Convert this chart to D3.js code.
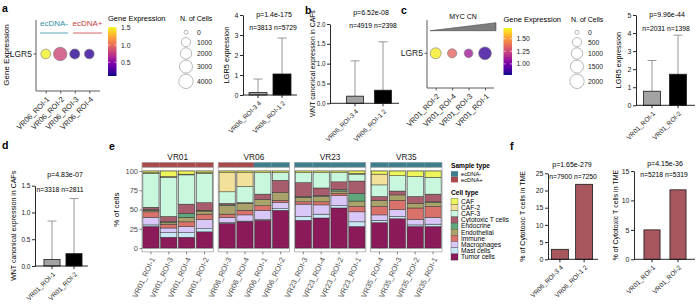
<!DOCTYPE html>
<html>
<head>
<meta charset="utf-8">
<script src="https://cdn.jsdelivr.net/npm/d3@7"></script>
<style>
  body { margin: 0; background: #fff; }
  svg { display: block; font-family: "Liberation Sans", Arial, sans-serif; }
</style>
</head>
<body>
<svg id="fig" width="699" height="304"></svg>
<script>
// ---------- panel a : dot plot ----------
var aSamples = ["VR06_ROI-1", "VR06_ROI-2", "VR06_ROI-3", "VR06_ROI-4"];
var aExpr = [1.5, 0.82, 0.17, 0.19];
var aCells = [1200, 3300, 1400, 1200];
var aColorTicks = [0.5, 1.0, 1.5];
var aSizeTicks = [0, 1000, 2000, 3000, 4000];

// ---------- panel a : LGR5 bars ----------
var aBarGroups = ["VR06_ROI-3 4", "VR06_ROI-1 2"];
var aBarMean = [0.12, 1.05];
var aBarErr = [0.8, 2.85];
var aBarN = [3813, 5729];
var aBarTicks = [0, 1, 2, 3, 4];

// ---------- panel b ----------
var bGroups = ["VR06_ROI-3 4", "VR06_ROI-1 2"];
var bMean = [0.18, 0.33];
var bErr = [1.07, 1.55];
var bN = [4919, 2398];
var bTicks = [0, 0.5, 1.0, 1.5, 2.0];

// ---------- panel c ----------
var cSamples = ["VR01_ROI-2", "VR01_ROI-4", "VR01_ROI-3", "VR01_ROI-1"];
var cExpr = [1.68, 1.34, 1.11, 0.85];
var cCells = [900, 500, 400, 1400];
var cColorTicks = [1.0, 1.25, 1.5];
var cSizeTicks = [0, 500, 1000, 1500, 2000];
var cBarGroups = ["VR01_ROI-1", "VR01_ROI-2"];
var cBarMean = [0.78, 1.72];
var cBarErr = [2.48, 3.88];
var cBarN = [2031, 1398];
var cBarTicks = [0, 1, 2, 3, 4, 5];

// ---------- panel d ----------
var dGroups = ["VR01_ROI-1", "VR01_ROI-2"];
var dMean = [0.12, 0.23];
var dErr = [0.84, 1.26];
var dN = [3318, 2811];
var dTicks = [0, 0.5, 1.0, 1.5];

// ---------- panel e : cell composition ----------
var ePatients = ["VR01", "VR06", "VR23", "VR35"];
var eSamples = ["VR01_ROI-1", "VR01_ROI-3", "VR01_ROI-4", "VR01_ROI-2",
                "VR06_ROI-3", "VR06_ROI-4", "VR06_ROI-1", "VR06_ROI-2",
                "VR23_ROI-3", "VR23_ROI-4", "VR23_ROI-2", "VR23_ROI-1",
                "VR35_ROI-4", "VR35_ROI-3", "VR35_ROI-2", "VR35_ROI-1"];
var eSampleType = ["ecDNA+", "ecDNA+", "ecDNA+", "ecDNA+",
                   "ecDNA+", "ecDNA+", "ecDNA-", "ecDNA-",
                   "ecDNA-", "ecDNA-", "ecDNA-", "ecDNA-",
                   "ecDNA-", "ecDNA-", "ecDNA-", "ecDNA-"];
var eCellTypes = ["CAF", "CAF-2", "CAF-3", "Cytotoxic T cells", "Endocrine",
                  "Endothelial", "Immune", "Macrophages", "Mast cells", "Tumor cells"];
// % of cells, one value per sample in eSamples order
var eCAF        = [2, 7, 4, 2,   2, 2, 2, 2,   2, 2, 2, 3,   4, 6, 7, 8];
var eCAF2       = [1, 1, 1, 1,   25, 18, 0, 0, 0, 0, 0, 1,   14, 0, 0, 0];
var eCAF3       = [44, 51, 38, 38, 15, 21, 28, 10, 13, 20, 12, 9, 15, 20, 26, 22];
var eCytotoxic  = [3, 7, 12, 10, 2, 1, 7, 16,  18, 10, 10, 16, 5, 5, 9, 10];
var eEndocrine  = [1, 1, 5, 1,   1, 0, 0, 0,   1, 1, 2, 10,  0, 0, 0, 1];
var eEndothelial= [2, 2, 6, 4,   11, 9, 8, 10, 6, 7, 3, 7,   8, 7, 6, 5];
var eImmune     = [7, 5, 6, 7,   4, 6, 6, 3,   3, 4, 3, 7,   11, 12, 15, 14];
var eMacrophages= [10, 6, 8, 12, 7, 8, 12, 8,  16, 12, 13, 13, 7, 9, 7, 9];
var eMast       = [2, 6, 6, 4,   1, 1, 1, 2,   5, 5, 3, 6,   3, 3, 2, 3];
var eTumor      = [28, 14, 14, 21, 32, 34, 36, 49, 36, 39, 52, 28, 33, 38, 28, 28];
var eCellColors = ["#eef55a", "#f2e19b", "#c9f7dd", "#a85d6c", "#5fa87c",
                   "#a9a26b", "#d9726a", "#d9c8f7", "#c9e6f5", "#8b1a5a"];

// ---------- panel f ----------
var f1Groups = ["VR06_ROI-3 4", "VR06_ROI-1 2"];
var f1Values = [2.9, 21.8];
var f1N = [7900, 7250];
var f1Ticks = [0, 5, 10, 15, 20, 25];
var f2Groups = ["VR01_ROI-1", "VR01_ROI-2"];
var f2Values = [5.0, 11.8];
var f2N = [5218, 5319];
var f2Ticks = [0, 5, 10, 15];

var FONT = "'Liberation Sans', Arial, sans-serif";
var svg = d3.select("#fig");

function letter(t, x, y) {
  svg.append("text").attr("x", x).attr("y", y)
    .attr("font-size", 10.5).attr("font-weight", "bold").text(t);
}

// GraphPad style bar chart
function barPanel(c) {
  var g = svg.append("g");
  var x = d3.scaleBand().domain(c.groups).range(c.band)
    .paddingInner(c.pad).paddingOuter(c.pad / 2);
  var y = d3.scaleLinear().domain([0, d3.max(c.ticks)]).range(c.yRange);
  var cx = function (d) { return x(d) + x.bandwidth() / 2; };

  if (c.err) {
    g.selectAll("path.whisker").data(c.groups).enter().append("path")
      .attr("class", "whisker")
      .attr("d", function (d, i) {
        return "M" + cx(d) + "," + y(c.mean[i]) + "V" + y(c.err[i]) +
          "M" + (cx(d) - 4.5) + "," + y(c.err[i]) + "H" + (cx(d) + 4.5);
      })
      .attr("fill", "none").attr("stroke", "#8c8c8c").attr("stroke-width", 0.9);
  }

  g.selectAll("rect").data(c.groups).enter().append("rect")
    .attr("x", function (d) { return x(d); })
    .attr("width", x.bandwidth())
    .attr("y", function (d, i) { return y(c.mean[i]); })
    .attr("height", function (d, i) { return y(0) - y(c.mean[i]); })
    .attr("fill", function (d, i) { return c.fills[i]; })
    .attr("stroke", "#1a1a1a").attr("stroke-width", 0.8);

  var ya = g.append("g").attr("transform", "translate(" + c.axisX + ",0)")
    .call(d3.axisLeft(y).tickValues(c.ticks).tickSize(3).tickSizeOuter(0).tickFormat(c.fmt));
  ya.attr("font-size", c.tickSize || 7).attr("font-family", FONT);
  ya.selectAll("text").attr("x", -4.5);

  var xa = g.append("g").attr("transform", "translate(0," + y(0) + ")")
    .call(d3.axisBottom(x).tickSize(3).tickSizeOuter(0));
  xa.select(".domain").remove();
  xa.append("line").attr("x1", c.axisX).attr("x2", c.xEnd);
  xa.attr("font-size", 6.5).attr("font-family", FONT);
  xa.selectAll(".tick text")
    .attr("x", 0).attr("y", 0).attr("dy", "0.35em")
    .attr("text-anchor", "end")
    .attr("transform", "translate(2,7) rotate(-45)");

  g.selectAll("line, path.domain").attr("stroke", "#111").attr("stroke-width", 0.9);
  g.selectAll(".tick text").attr("fill", "#222");

  g.append("text")
    .attr("transform", "translate(" + c.labX + "," + d3.mean(c.yRange) + ") rotate(-90)")
    .attr("text-anchor", "middle").attr("font-size", c.labSize || 7.3).text(c.label);
  g.append("text").attr("x", c.pX).attr("y", c.pY).attr("text-anchor", "middle")
    .attr("font-size", 7).text(c.p);
  g.append("text").attr("x", c.nX).attr("y", c.nY).attr("text-anchor", "middle")
    .attr("font-size", 6.8).text("n=" + c.n[0] + " n=" + c.n[1]);
}

// ggplot style dot plot with colour bar and size legend
function dotPanel(c) {
  var g = svg.append("g");
  var x = d3.scalePoint().domain(c.samples).range(c.xr);
  var col = d3.scaleSequential(d3.interpolatePlasma).domain(c.cdom);
  var r = d3.scaleSqrt().domain([0, d3.max(c.sizeTicks)]).range([2, 7.2]);

  g.append("path")
    .attr("d", "M" + c.axisX + "," + c.yTop + "V" + c.yBot + "H" + c.xEnd)
    .attr("fill", "none").attr("stroke", "#333").attr("stroke-width", 0.8);
  g.append("line").attr("x1", c.axisX - 2.5).attr("x2", c.axisX)
    .attr("y1", c.dotY).attr("y2", c.dotY).attr("stroke", "#333").attr("stroke-width", 0.8);
  g.append("text").attr("x", c.axisX - 4).attr("y", c.dotY).attr("dy", "0.35em")
    .attr("text-anchor", "end").attr("font-size", 8.5).attr("fill", "#222").text("LGR5");

  var xa = g.append("g").attr("transform", "translate(0," + c.yBot + ")")
    .call(d3.axisBottom(x).tickSize(2.5).tickSizeOuter(0));
  xa.select(".domain").remove();
  xa.selectAll("line").attr("stroke", "#333").attr("stroke-width", 0.8);
  xa.attr("font-size", 7.5).attr("font-family", FONT);
  xa.selectAll(".tick text")
    .attr("x", 0).attr("y", 0).attr("dy", "0.35em").attr("fill", "#222")
    .attr("text-anchor", "end")
    .attr("transform", "translate(2,7) rotate(-45)");

  g.selectAll("circle.dot").data(c.samples).enter().append("circle")
    .attr("class", "dot")
    .attr("cx", function (d) { return x(d); })
    .attr("cy", c.dotY)
    .attr("r", function (d, i) { return r(c.cells[i]); })
    .attr("fill", function (d, i) { return col(c.expr[i]); })
    .attr("fill-opacity", 0.8)
    .attr("stroke", "#777").attr("stroke-width", 0.6);

  // colour bar
  var grad = svg.append("defs").append("linearGradient").attr("id", c.id)
    .attr("x1", 0).attr("y1", 1).attr("x2", 0).attr("y2", 0);
  d3.range(0, 1.0001, 0.1).forEach(function (t) {
    grad.append("stop").attr("offset", t).attr("stop-color", d3.interpolatePlasma(t));
  });
  var cb = d3.scaleLinear().domain(c.cdom).range([c.cbBot, c.cbTop]);
  g.append("text").attr("x", c.cbX).attr("y", c.cbTop - 6).attr("font-size", 7.5).text("Gene Expression");
  g.append("rect").attr("x", c.cbX).attr("y", c.cbTop).attr("width", 8.5)
    .attr("height", c.cbBot - c.cbTop).attr("fill", "url(#" + c.id + ")");
  c.colorTicks.forEach(function (v) {
    g.append("path").attr("d", "M" + c.cbX + "," + cb(v) + "h2M" + (c.cbX + 6.5) + "," + cb(v) + "h2")
      .attr("stroke", "#fff").attr("stroke-width", 0.6);
    g.append("text").attr("x", c.cbX + 13).attr("y", cb(v)).attr("dy", "0.35em")
      .attr("font-size", 6.8).attr("fill", "#222").text(d3.format(c.cfmt)(v));
  });

  // size legend
  g.append("text").attr("x", c.sX).attr("y", c.cbTop - 6).attr("font-size", 7).text("N. of Cells");
  var yy = c.sY0, prevH = 0;
  c.sizeTicks.forEach(function (v, i) {
    var h = Math.max(9.5, 2 * r(v) + 1);
    if (i > 0) yy += (prevH + h) / 2;
    prevH = h;
    g.append("circle").attr("cx", c.sX + 6).attr("cy", yy).attr("r", r(v))
      .attr("fill", "#fff").attr("stroke", "#888").attr("stroke-width", 0.6);
    g.append("text").attr("x", c.sX + 17).attr("y", yy).attr("dy", "0.35em")
      .attr("font-size", 6.8).attr("fill", "#222").text(v);
  });
  return g;
}

// ===== panel a =====
letter("a", 2, 12);
svg.append("text").attr("transform", "translate(9,55) rotate(-90)")
  .attr("text-anchor", "middle").attr("font-size", 8).text("Gene Expression");
var ga = dotPanel({
  id: "plasmaA", samples: aSamples, expr: aExpr, cells: aCells,
  xr: [45.7, 89.3], axisX: 36, yTop: 20, yBot: 91, xEnd: 100, dotY: 54,
  cdom: [0.1, 1.53], colorTicks: aColorTicks, cfmt: ".1f",
  cbX: 108, cbTop: 27, cbBot: 76, sizeTicks: aSizeTicks, sX: 180, sY0: 32.3
});
ga.append("text").attr("x", 54).attr("y", 26).attr("text-anchor", "middle")
  .attr("font-size", 8).attr("fill", "#2f8fa8").text("ecDNA-");
ga.append("line").attr("x1", 40).attr("x2", 68).attr("y1", 33).attr("y2", 33)
  .attr("stroke", "#2f8fa8").attr("stroke-width", 0.8);
ga.append("text").attr("x", 87.5).attr("y", 26).attr("text-anchor", "middle")
  .attr("font-size", 8).attr("fill", "#c8403f").text("ecDNA+");
ga.append("line").attr("x1", 73).attr("x2", 102).attr("y1", 33).attr("y2", 33)
  .attr("stroke", "#c8403f").attr("stroke-width", 0.8);

barPanel({
  groups: aBarGroups, mean: aBarMean, err: aBarErr, n: aBarN, fills: ["#a3a3a3", "#000"],
  ticks: aBarTicks, fmt: d3.format("d"), band: [246, 294], pad: 0.25,
  yRange: [95, 15], axisX: 243, xEnd: 297,
  label: "LGR5 expression", labX: 229, p: "p=1.4e-175", pX: 274, pY: 17, nX: 273, nY: 30
});

// ===== panel b =====
letter("b", 305, 14);
barPanel({
  groups: bGroups, mean: bMean, err: bErr, n: bN, fills: ["#a3a3a3", "#000"],
  ticks: bTicks, fmt: d3.format(".1f"), band: [341, 397], pad: 0.4, tickSize: 6.3,
  yRange: [103.3, 24], axisX: 330, xEnd: 399,
  label: "WNT canonical expression in CAFs", labX: 315, labSize: 6.8,
  p: "p=6.52e-08", pX: 371, pY: 15, nX: 373, nY: 28
});

// ===== panel c =====
letter("c", 401, 14);
var gc = dotPanel({
  id: "plasmaC", samples: cSamples, expr: cExpr, cells: cCells,
  xr: [435.7, 485], axisX: 427, yTop: 20, yBot: 88, xEnd: 494, dotY: 53.3,
  cdom: [0.78, 1.71], colorTicks: cColorTicks, cfmt: ".2f",
  cbX: 503.5, cbTop: 28, cbBot: 75, sizeTicks: cSizeTicks, sX: 571, sY0: 32.3
});
gc.append("path").attr("d", "M430,30.7L496,22.7V30.7Z")
  .attr("fill", "#7d7d7d").attr("stroke", "#333").attr("stroke-width", 0.5);
gc.append("text").attr("x", 463).attr("y", 19).attr("text-anchor", "middle")
  .attr("font-size", 7).text("MYC CN");

barPanel({
  groups: cBarGroups, mean: cBarMean, err: cBarErr, n: cBarN, fills: ["#a3a3a3", "#000"],
  ticks: cBarTicks, fmt: d3.format("d"), band: [639, 691], pad: 0.35,
  yRange: [105.3, 15], axisX: 636, xEnd: 695,
  label: "LGR5 expression", labX: 621, p: "p=9.96e-44", pX: 667, pY: 17, nX: 666, nY: 31
});

// ===== panel d =====
letter("d", 2, 149);
barPanel({
  groups: dGroups, mean: dMean, err: dErr, n: dN, fills: ["#a3a3a3", "#000"],
  ticks: dTicks, fmt: d3.format(".1f"), band: [41, 85], pad: 0.27, tickSize: 6.5,
  yRange: [266, 185.7], axisX: 35, xEnd: 88,
  label: "WNT canonical expression in CAFs", labX: 16, labSize: 7,
  p: "p=4.83e-07", pX: 65, pY: 176.5, nX: 60, nY: 191.5
});

// ===== panel e =====
letter("e", 109, 150);
var eRows = eSamples.map(function (s, i) {
  return {
    sample: s, patient: s.slice(0, 4), type: eSampleType[i],
    "CAF": eCAF[i], "CAF-2": eCAF2[i], "CAF-3": eCAF3[i],
    "Cytotoxic T cells": eCytotoxic[i], "Endocrine": eEndocrine[i],
    "Endothelial": eEndothelial[i], "Immune": eImmune[i],
    "Macrophages": eMacrophages[i], "Mast cells": eMast[i], "Tumor cells": eTumor[i]
  };
});
var eColor = d3.scaleOrdinal().domain(eCellTypes).range(eCellColors);
var typeColor = d3.scaleOrdinal().domain(["ecDNA-", "ecDNA+"]).range(["#3d7e8e", "#a84a4b"]);
var ex = d3.scaleBand().domain(ePatients).range([142, 442]).paddingInner(0.062);
var ey = d3.scaleLinear().domain([-5, 105]).range([251.85, 167.2]);
var stack = d3.stack().keys(eCellTypes.slice().reverse());

ePatients.forEach(function (p) {
  var rows = eRows.filter(function (d) { return d.patient === p; });
  var w = ex.bandwidth();
  var g = svg.append("g").attr("transform", "translate(" + ex(p) + ",0)");
  var xi = d3.scaleBand().domain(rows.map(function (d) { return d.sample; }))
    .range([0, w]).paddingInner(0.1).paddingOuter(0.05);
  var xs = d3.scaleBand().domain(xi.domain()).range([0, w]);

  g.append("rect").attr("x", 0).attr("y", ey(105)).attr("width", w)
    .attr("height", ey(-5) - ey(105)).attr("fill", "#fff");

  // grey frame behind each column
  g.selectAll("rect.col").data(rows).enter().append("rect").attr("class", "col")
    .attr("x", function (d) { return xi(d.sample); }).attr("width", xi.bandwidth())
    .attr("y", ey(100)).attr("height", ey(0) - ey(100))
    .attr("fill", "none").attr("stroke", "#c4c4c4").attr("stroke-width", 2);

  var layers = stack(rows);
  g.selectAll("g.layer").data(layers).enter().append("g").attr("class", "layer")
    .attr("fill", function (d) { return eColor(d.key); })
    .selectAll("rect").data(function (d) { return d; }).enter().append("rect")
    .attr("x", function (d) { return xi(d.data.sample); })
    .attr("width", xi.bandwidth())
    .attr("y", function (d) { return ey(d[1]); })
    .attr("height", function (d) { return ey(d[0]) - ey(d[1]); })
    .attr("stroke", "#2b2b2b").attr("stroke-width", 0.45);

  g.append("rect").attr("x", 0).attr("y", ey(105)).attr("width", w)
    .attr("height", ey(-5) - ey(105)).attr("fill", "none")
    .attr("stroke", "#a6a6a6").attr("stroke-width", 0.8);

  // sample type strip
  g.selectAll("rect.strip").data(rows).enter().append("rect").attr("class", "strip")
    .attr("x", function (d) { return xs(d.sample); }).attr("width", xs.bandwidth())
    .attr("y", 162.3).attr("height", ey(105) - 162.3)
    .attr("fill", function (d) { return typeColor(d.type); });
  g.append("rect").attr("x", 0).attr("y", 162.3).attr("width", w)
    .attr("height", ey(105) - 162.3).attr("fill", "none")
    .attr("stroke", "#a6a6a6").attr("stroke-width", 0.6);

  g.append("text").attr("x", w / 2).attr("y", 159.5).attr("text-anchor", "middle")
    .attr("font-size", 8.3).attr("fill", "#1a1a1a").text(p);

  var xa = g.append("g").attr("transform", "translate(0," + ey(-5) + ")")
    .call(d3.axisBottom(xi).tickSize(2.5).tickSizeOuter(0));
  xa.select(".domain").remove();
  xa.selectAll("line").attr("stroke", "#333").attr("stroke-width", 0.6);
  xa.attr("font-size", 7.6).attr("font-family", FONT);
  xa.selectAll(".tick text")
    .attr("x", 0).attr("y", 0).attr("dy", "0.35em").attr("fill", "#4d4d4d")
    .attr("text-anchor", "end")
    .attr("transform", "translate(2,6) rotate(-65)");
});

var eya = svg.append("g").attr("transform", "translate(" + ex(ePatients[0]) + ",0)")
  .call(d3.axisLeft(ey).tickValues([0, 25, 50, 75, 100]).tickSize(2.5));
eya.select(".domain").remove();
eya.selectAll("line").attr("stroke", "#333").attr("stroke-width", 0.6);
eya.attr("font-size", 7.5).attr("font-family", FONT);
eya.selectAll("text").attr("fill", "#4d4d4d").attr("x", -4);
svg.append("text").attr("transform", "translate(119," + ey(50) + ") rotate(-90)")
  .attr("text-anchor", "middle").attr("font-size", 8).text("% of cells");

// legends
var lg = svg.append("g").attr("transform", "translate(451,0)");
lg.append("text").attr("x", 0).attr("y", 168).attr("font-size", 6.6).attr("font-weight", "bold").text("Sample type");
typeColor.domain().forEach(function (t, i) {
  lg.append("rect").attr("x", 0).attr("y", 171.2 + i * 5.6).attr("width", 7).attr("height", 5.6)
    .attr("fill", typeColor(t));
  lg.append("text").attr("x", 10).attr("y", 174 + i * 5.6).attr("dy", "0.35em")
    .attr("font-size", 5.8).text(t);
});
lg.append("text").attr("x", 0).attr("y", 195).attr("font-size", 6.6).attr("font-weight", "bold").text("Cell type");
eCellTypes.forEach(function (t, i) {
  lg.append("rect").attr("x", 0).attr("y", 198.4 + i * 6.17).attr("width", 7).attr("height", 6.17)
    .attr("fill", eColor(t)).attr("stroke", "#2b2b2b").attr("stroke-width", 0.3);
  lg.append("text").attr("x", 10).attr("y", 201.5 + i * 6.17).attr("dy", "0.35em")
    .attr("font-size", 6.6).text(t);
});

// ===== panel f =====
letter("f", 510, 150);
barPanel({
  groups: f1Groups, mean: f1Values, n: f1N, fills: ["#a8575f", "#a8575f"],
  ticks: f1Ticks, fmt: d3.format("d"), band: [547.75, 596.25], pad: 0.3,
  yRange: [259.3, 173.3], axisX: 548, xEnd: 598,
  label: "% of Cytotoxic T cells in TME", labX: 525, labSize: 7,
  p: "p=1.65e-279", pX: 572, pY: 167, nX: 573, nY: 179
});
barPanel({
  groups: f2Groups, mean: f2Values, n: f2N, fills: ["#a8575f", "#a8575f"],
  ticks: f2Ticks, fmt: d3.format("d"), band: [639, 691], pad: 0.38,
  yRange: [259.3, 171], axisX: 634, xEnd: 695,
  label: "% of Cytotoxic T cells in TME", labX: 618, labSize: 7,
  p: "p=4.15e-36", pX: 665, pY: 165.5, nX: 664, nY: 176.5
});
</script>
</body>
</html>
